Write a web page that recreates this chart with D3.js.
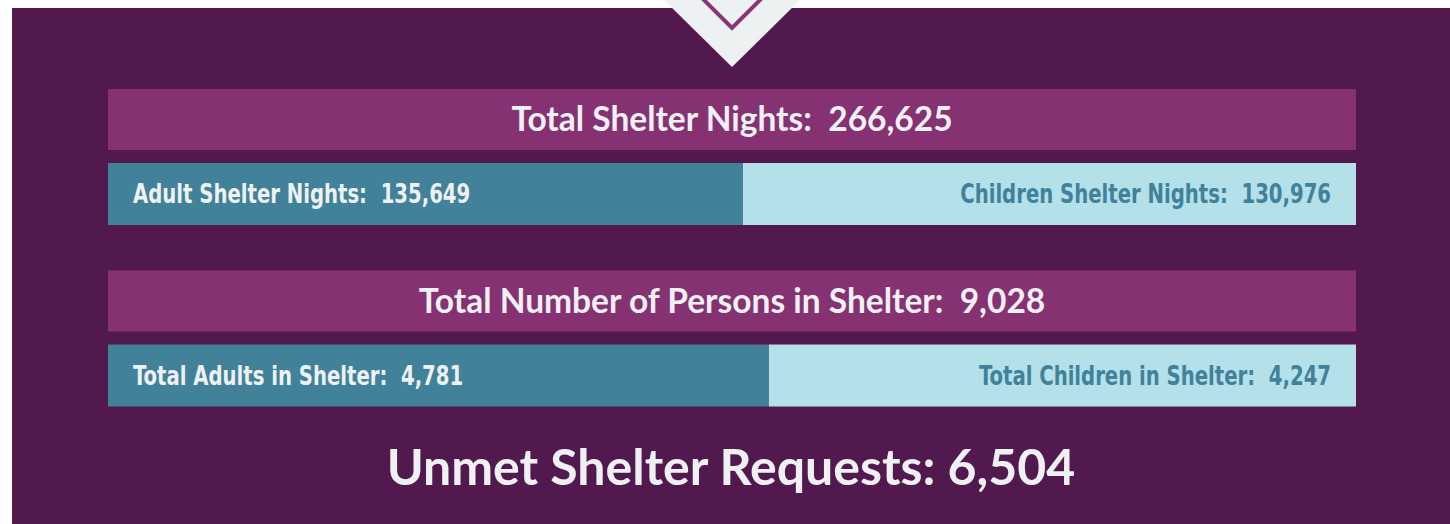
<!DOCTYPE html>
<html>
<head>
<meta charset="utf-8">
<script src="https://cdn.jsdelivr.net/npm/d3@7"></script>
<style>
  body { margin: 0; background: #fff; }
  svg { display: block; }
  .title { font-family: Lato, "Open Sans", sans-serif; font-weight: 700; fill: #eef0f3; white-space: pre; }
  .part { font-family: "DejaVu Sans", sans-serif; font-stretch: condensed; font-weight: 700; white-space: pre; }
</style>
</head>
<body>
<div id="chart"></div>
<script>
// values
var rowTitles = ["Total Shelter Nights", "Total Number of Persons in Shelter"];
var totals = [266625, 9028];
var adultLabels = ["Adult Shelter Nights", "Total Adults in Shelter"];
var adultValues = [135649, 4781];
var childLabels = ["Children Shelter Nights", "Total Children in Shelter"];
var childValues = [130976, 4247];
var unmetLabel = "Unmet Shelter Requests";
var unmetValue = 6504;

var width = 1450, height = 524;
var left = 108, right = 1356, barH = 62, pad = 25;
var squeeze = 0.81; // condensed face is still wider than the original, narrow it a bit more
var fmt = d3.format(",");

var colors = {
  bg: "#52194f",
  title: "#863272",
  adult: "#41819a",
  child: "#b3e0e9",
  light: "#eef1f2",
  chevron: "#8a3575"
};

var svg = d3.select("#chart")
  .append("svg")
  .attr("width", width)
  .attr("height", height);

svg.append("rect")
  .attr("x", 12).attr("y", 8)
  .attr("width", width - 12).attr("height", height - 8)
  .attr("fill", colors.bg);

// chevron at the top
svg.append("path")
  .attr("d", "M664,0L800,0L732,67Z")
  .attr("fill", colors.light);
svg.append("path")
  .attr("d", "M700,-4L732,28L764,-4")
  .attr("fill", "none")
  .attr("stroke", colors.chevron)
  .attr("stroke-width", 4);

var rows = rowTitles.map(function(t, i) {
  return { title: t, total: totals[i],
           adultLabel: adultLabels[i], adult: adultValues[i],
           childLabel: childLabels[i], child: childValues[i] };
});

var y = d3.scaleBand()
  .domain(d3.range(rows.length))
  .range([89, 89 + 181.5 * rows.length]);

var row = svg.selectAll(".row")
  .data(rows)
  .enter().append("g")
  .attr("class", "row")
  .attr("transform", function(d, i) { return "translate(0," + y(i) + ")"; });

row.append("rect")
  .attr("x", left).attr("y", 0)
  .attr("width", right - left).attr("height", barH - 1)
  .attr("fill", colors.title);

row.append("text")
  .attr("class", "title")
  .attr("x", (left + right) / 2)
  .attr("y", 42)
  .attr("text-anchor", "middle")
  .style("font-size", "33.5px")
  .text(function(d) { return d.title + ":  " + fmt(d.total); });

row.each(function(d) {
  var g = d3.select(this);
  var x = d3.scaleLinear().domain([0, d.total]).range([left, right]);
  var sub = g.append("g").attr("transform", "translate(0,74)");

  sub.append("rect")
    .attr("x", x(0)).attr("y", 0)
    .attr("width", x(d.adult) - x(0)).attr("height", barH)
    .attr("fill", colors.adult);
  sub.append("rect")
    .attr("x", x(d.adult)).attr("y", 0)
    .attr("width", x(d.adult + d.child) - x(d.adult)).attr("height", barH)
    .attr("fill", colors.child);

  sub.append("text")
    .attr("class", "part")
    .attr("transform", "translate(" + (x(0) + pad) + ",40) scale(" + squeeze + ",1)")
    .style("font-size", "27px")
    .attr("fill", colors.light)
    .text(d.adultLabel + ":  " + fmt(d.adult));
  sub.append("text")
    .attr("class", "part")
    .attr("transform", "translate(" + (x(d.adult + d.child) - pad) + ",40) scale(" + squeeze + ",1)")
    .attr("text-anchor", "end")
    .style("font-size", "27px")
    .attr("fill", colors.adult)
    .text(d.childLabel + ":  " + fmt(d.child));
});

svg.append("text")
  .attr("class", "title")
  .attr("x", (left + right) / 2 - 1)
  .attr("y", 485)
  .attr("text-anchor", "middle")
  .style("font-size", "50px")
  .text(unmetLabel + ": " + fmt(unmetValue));
</script>
</body>
</html>
